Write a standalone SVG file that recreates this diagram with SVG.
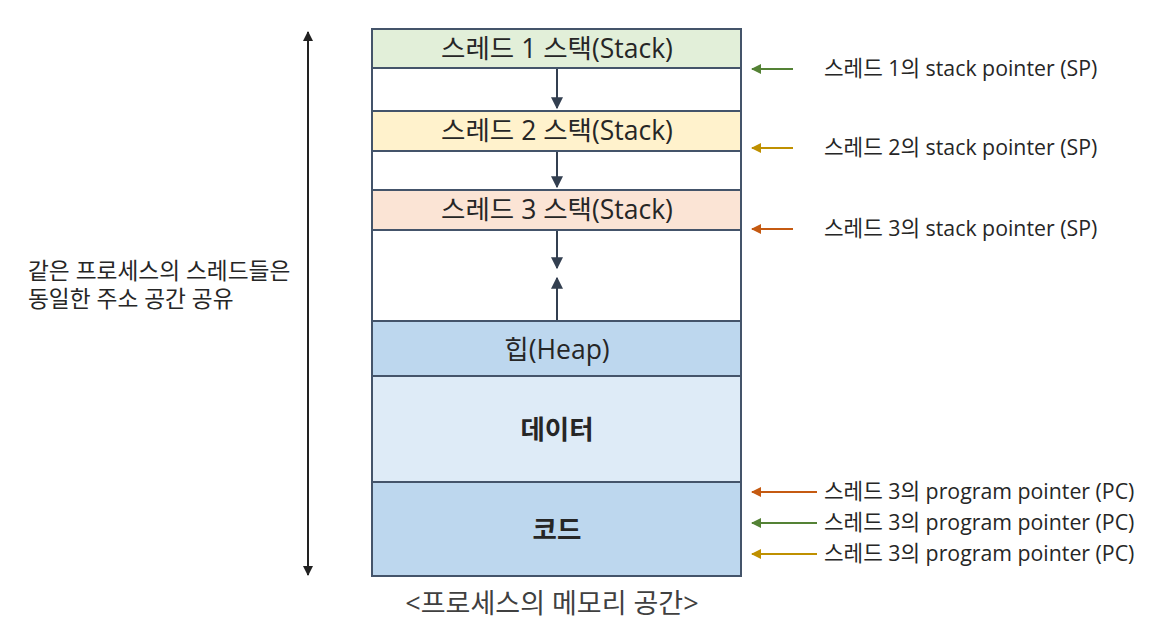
<svg xmlns="http://www.w3.org/2000/svg" width="1150" height="619" viewBox="0 0 1150 619">
<defs>
<style>
text{font-family:"Open Sans","Noto Sans CJK KR",sans-serif;fill:#262626}
.seg{stroke:#44546a;stroke-width:2}
.t{font-size:26.5px;text-anchor:middle}
.b{font-weight:bold}
.r{font-size:21.3px}
.l{font-size:22.7px}
.ar{stroke-width:2;fill:none}
</style>
<marker id="mk" viewBox="0 0 10 10" refX="9" refY="5" markerWidth="6" markerHeight="6" orient="auto-start-reverse"><path d="M0,0L10,5L0,10z" fill="#333f50"/></marker>
<marker id="mb" viewBox="0 0 10 10" refX="9" refY="5" markerWidth="5" markerHeight="5" orient="auto-start-reverse"><path d="M0,0L10,5L0,10z" fill="#222"/></marker>
<marker id="mg" viewBox="0 0 10 10" refX="9" refY="5" markerWidth="5" markerHeight="5" orient="auto"><path d="M0,0L10,5L0,10z" fill="#548235"/></marker>
<marker id="my" viewBox="0 0 10 10" refX="9" refY="5" markerWidth="5" markerHeight="5" orient="auto"><path d="M0,0L10,5L0,10z" fill="#bf9000"/></marker>
<marker id="mo" viewBox="0 0 10 10" refX="9" refY="5" markerWidth="5" markerHeight="5" orient="auto"><path d="M0,0L10,5L0,10z" fill="#c55a11"/></marker>
</defs>
<rect width="1150" height="619" fill="#fff"/>
<g id="memory">
<g id="stack1"><rect class="seg" x="372" y="29" width="369" height="39" fill="#e2efd9"/><text class="t" x="557" y="58">스레드 1 스택(Stack)</text></g>
<g id="gap1"><rect class="seg" x="372" y="68" width="369" height="43" fill="#fff"/></g>
<g id="stack2"><rect class="seg" x="372" y="111" width="369" height="40" fill="#fff2cc"/><text class="t" x="557" y="140">스레드 2 스택(Stack)</text></g>
<g id="gap2"><rect class="seg" x="372" y="151" width="369" height="39" fill="#fff"/></g>
<g id="stack3"><rect class="seg" x="372" y="190" width="369" height="40" fill="#fbe4d5"/><text class="t" x="557" y="219">스레드 3 스택(Stack)</text></g>
<g id="free"><rect class="seg" x="372" y="230" width="369" height="91" fill="#fff"/></g>
<g id="heap"><rect class="seg" x="372" y="321" width="369" height="55" fill="#bdd7ee"/><text class="t" x="557" y="359">힙(Heap)</text></g>
<g id="data"><rect class="seg" x="372" y="376" width="369" height="106" fill="#deebf7"/><text class="t b" x="557" y="439">데이터</text></g>
<g id="code"><rect class="seg" x="372" y="482" width="369" height="94" fill="#bdd7ee"/><text class="t b" x="557" y="539">코드</text></g>
</g>
<g id="connectors">
<line class="ar" x1="557" y1="69" x2="557" y2="108" stroke="#333f50" marker-end="url(#mk)"/>
<line class="ar" x1="557" y1="152" x2="557" y2="187" stroke="#333f50" marker-end="url(#mk)"/>
<line class="ar" x1="557" y1="231" x2="557" y2="268" stroke="#333f50" marker-end="url(#mk)"/>
<line class="ar" x1="557" y1="320" x2="557" y2="278" stroke="#333f50" marker-end="url(#mk)"/>
<line class="ar" x1="308" y1="32" x2="308" y2="575" stroke="#222" marker-start="url(#mb)" marker-end="url(#mb)"/>
<line class="ar" x1="793" y1="69" x2="752" y2="69" stroke="#548235" marker-end="url(#mg)"/>
<line class="ar" x1="793" y1="148" x2="752" y2="148" stroke="#bf9000" marker-end="url(#my)"/>
<line class="ar" x1="793" y1="229" x2="752" y2="229" stroke="#c55a11" marker-end="url(#mo)"/>
<line class="ar" x1="817" y1="492" x2="752" y2="492" stroke="#c55a11" marker-end="url(#mo)"/>
<line class="ar" x1="817" y1="523" x2="752" y2="523" stroke="#548235" marker-end="url(#mg)"/>
<line class="ar" x1="817" y1="554" x2="752" y2="554" stroke="#bf9000" marker-end="url(#my)"/>
</g>
<g id="labels">
<text class="r" x="824" y="76">스레드 1의 stack pointer (SP)</text>
<text class="r" x="824" y="155">스레드 2의 stack pointer (SP)</text>
<text class="r" x="824" y="236">스레드 3의 stack pointer (SP)</text>
<text class="r" x="824" y="499">스레드 3의 program pointer (PC)</text>
<text class="r" x="824" y="530">스레드 3의 program pointer (PC)</text>
<text class="r" x="824" y="561">스레드 3의 program pointer (PC)</text>
<text class="l" x="28" y="279">같은 프로세스의 스레드들은</text>
<text class="l" x="28" y="307">동일한 주소 공간 공유</text>
<text x="552" y="613" font-size="27" text-anchor="middle" style="fill:#404040">&lt;프로세스의 메모리 공간&gt;</text>
</g>
</svg>
